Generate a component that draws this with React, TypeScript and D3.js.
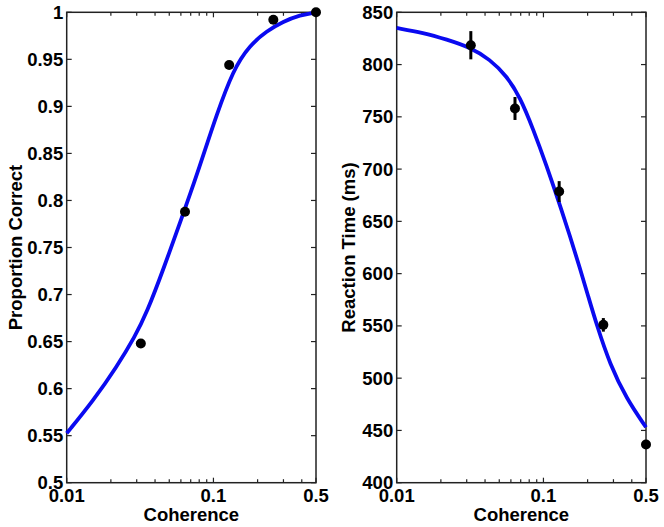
import React from 'react';
import * as d3 from 'd3';

// ---- data ----
const coherence = [0.032, 0.064, 0.128, 0.256, 0.5];
const proportionCorrect = [0.648, 0.788, 0.944, 0.992, 1.0];
const reactionTime = [818.5, 758, 678.5, 551, 436.5];
const reactionTimeErr = [13.5, 11, 10, 6.5, 3];

// fitted curves
const pcFitX = [0.01, 0.0152, 0.0219, 0.0292, 0.0351, 0.0455, 0.0623, 0.0729, 0.09, 0.1025, 0.1366, 0.1775, 0.2307, 0.2992, 0.389, 0.5];
const pcFitY = [0.5525, 0.5874, 0.623, 0.6555, 0.6805, 0.7265, 0.7861, 0.8164, 0.8589, 0.8861, 0.9397, 0.9652, 0.9801, 0.9902, 0.9971, 1.0];
const rtFitX = [0.01, 0.0152, 0.0219, 0.0316, 0.0432, 0.0562, 0.0692, 0.0853, 0.1052, 0.1263, 0.1517, 0.1775, 0.2022, 0.2307, 0.2842, 0.3694, 0.5];
const rtFitY = [835, 830.5, 824, 816.5, 805, 789, 769, 738, 703, 670, 636, 605, 578, 551, 513, 480, 453];

const xMajorTicks = [0.01, 0.1, 0.5];
const xTickLabels = ['0.01', '0.1', '0.5'];
const xMinorTicks = [0.02, 0.03, 0.04, 0.05, 0.06, 0.07, 0.08, 0.09, 0.2, 0.3, 0.4];
const pcTicks = [0.5, 0.55, 0.6, 0.65, 0.7, 0.75, 0.8, 0.85, 0.9, 0.95, 1];
const pcTickLabels = ['0.5', '0.55', '0.6', '0.65', '0.7', '0.75', '0.8', '0.85', '0.9', '0.95', '1'];
const rtTicks = [400, 450, 500, 550, 600, 650, 700, 750, 800, 850];
const rtTickLabels = ['400', '450', '500', '550', '600', '650', '700', '750', '800', '850'];

const FONT = '"Liberation Sans", Arial, Helvetica, sans-serif';
const FS = 18.5;

type PanelProps = {
  left: number;
  right: number;
  yDomain: [number, number];
  yTicks: number[];
  yTickLabels: string[];
  yLabel: string;
  yLabelX: number;
  fitX: number[];
  fitY: number[];
  ptY: number[];
  err?: number[];
};

function Panel(p: PanelProps) {
  const top = 12.3;
  const bottom = 482.7;
  const x = d3.scaleLog().domain([0.01, 0.5]).range([p.left, p.right]);
  const y = d3.scaleLinear().domain(p.yDomain).range([bottom, top]);
  const line = d3
    .line<number>()
    .x((d, i) => x(p.fitX[i]))
    .y((d) => y(d))
    .curve(d3.curveBasis);
  const majLen = 5;
  const minLen = 3.5;
  const axisColor = '#222';
  return (
    <g>
      {p.yTicks.map((t, i) => (
        <g key={'yt' + i}>
          <line x1={p.left} x2={p.left + majLen} y1={y(t)} y2={y(t)} stroke={axisColor} strokeWidth={1.2} />
          <line x1={p.right} x2={p.right - majLen} y1={y(t)} y2={y(t)} stroke={axisColor} strokeWidth={1.2} />
          <text
            x={p.left - 3.5}
            y={y(t)}
            textAnchor="end"
            dominantBaseline="central"
            fontFamily={FONT}
            fontWeight="bold"
            fontSize={FS}
            fill="#000"
          >
            {p.yTickLabels[i]}
          </text>
        </g>
      ))}
      {xMajorTicks.map((t, i) => (
        <g key={'xt' + i}>
          <line x1={x(t)} x2={x(t)} y1={bottom} y2={bottom - majLen} stroke={axisColor} strokeWidth={1.2} />
          <line x1={x(t)} x2={x(t)} y1={top} y2={top + majLen} stroke={axisColor} strokeWidth={1.2} />
          <text
            x={x(t)}
            y={501.5}
            textAnchor="middle"
            fontFamily={FONT}
            fontWeight="bold"
            fontSize={FS}
            fill="#000"
          >
            {xTickLabels[i]}
          </text>
        </g>
      ))}
      {xMinorTicks.map((t, i) => (
        <g key={'xm' + i}>
          <line x1={x(t)} x2={x(t)} y1={bottom} y2={bottom - minLen} stroke={axisColor} strokeWidth={1.2} />
          <line x1={x(t)} x2={x(t)} y1={top} y2={top + minLen} stroke={axisColor} strokeWidth={1.2} />
        </g>
      ))}
      <rect
        x={p.left}
        y={top}
        width={p.right - p.left}
        height={bottom - top}
        fill="none"
        stroke={axisColor}
        strokeWidth={1.5}
      />
      <path d={line(p.fitY) || ''} fill="none" stroke="#0a0af0" strokeWidth={3.8} />
      {coherence.map((c, i) => (
        <g key={'pt' + i}>
          {p.err && (
            <line
              x1={x(c)}
              x2={x(c)}
              y1={y(p.ptY[i] - p.err[i])}
              y2={y(p.ptY[i] + p.err[i])}
              stroke="#000"
              strokeWidth={3}
            />
          )}
          <circle cx={x(c)} cy={y(p.ptY[i])} r={5} fill="#000" />
        </g>
      ))}
      <text
        x={(p.left + p.right) / 2}
        y={520.5}
        textAnchor="middle"
        fontFamily={FONT}
        fontWeight="bold"
        fontSize={FS}
        fill="#000"
      >
        Coherence
      </text>
      <text
        transform={`translate(${p.yLabelX},${(top + bottom) / 2}) rotate(-90)`}
        textAnchor="middle"
        dominantBaseline="central"
        fontFamily={FONT}
        fontWeight="bold"
        fontSize={FS}
        fill="#000"
      >
        {p.yLabel}
      </text>
    </g>
  );
}

export default function App() {
  return (
    <svg
      width={664}
      height={527}
      style={{ position: 'absolute', left: 0, top: 0, background: '#fff' }}
    >
      <rect x={0} y={0} width={664} height={527} fill="#fff" />
      <Panel
        left={66.7}
        right={316}
        yDomain={[0.5, 1]}
        yTicks={pcTicks}
        yTickLabels={pcTickLabels}
        yLabel="Proportion Correct"
        yLabelX={15.5}
        fitX={pcFitX}
        fitY={pcFitY}
        ptY={proportionCorrect}
      />
      <Panel
        left={396.7}
        right={646}
        yDomain={[400, 850]}
        yTicks={rtTicks}
        yTickLabels={rtTickLabels}
        yLabel="Reaction Time (ms)"
        yLabelX={348}
        fitX={rtFitX}
        fitY={rtFitY}
        ptY={reactionTime}
        err={reactionTimeErr}
      />
    </svg>
  );
}
